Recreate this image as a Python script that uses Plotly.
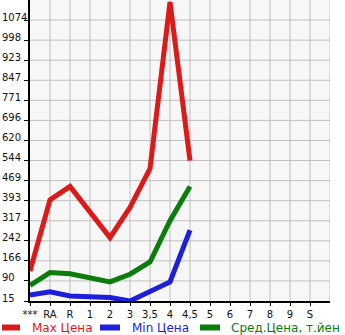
import plotly.graph_objects as go

categories = ["***", "RA", "R", "1", "2", "3", "3,5", "4", "4,5", "5", "6", "7", "8", "9", "S"]
max_price = [128, 396, 447, 350, 254, 368, 514, 1142, 544]
min_price = [37, 50, 34, 30, 28, 15, 50, 87, 282]
avg_price = [74, 122, 118, 103, 87, 116, 162, 318, 447]
y_tick_labels = ["15", "90", "166", "242", "317", "393", "469", "544", "620", "696", "771", "847", "923", "998", "1074"]
y_tick_values = [15 + i * (1074 - 15) / 14 for i in range(15)]

RED = "#dc1a1a"
BLUE = "#1e1edc"
GREEN = "#0a7d0a"

W, H = 345, 335
ML, MR, MT, MB = 30, 15, 0, 34
PW, PH = W - ML - MR, H - MT - MB

fig = go.Figure()
xs = list(range(len(categories)))
for vals, col, name in [(max_price, RED, "Max Цена"), (min_price, BLUE, "Min Цена"), (avg_price, GREEN, "Сред.Цена, т.йен")]:
    fig.add_trace(go.Scatter(x=xs[:len(vals)], y=vals, mode="lines", name=name,
                             line=dict(color=col, width=5), showlegend=False, hoverinfo="skip"))

step = (1074 - 15) / 14
fig.update_layout(
    width=W, height=H,
    margin=dict(l=ML, r=MR, t=MT, b=MB),
    paper_bgcolor="white", plot_bgcolor="#f7f7f7",
    font=dict(family="DejaVu Sans", size=10, color="#111"),
    xaxis=dict(range=[0, 15], tickmode="array", tickvals=xs, ticktext=categories,
               showgrid=False, zeroline=False, showline=True, linecolor="black", linewidth=2,
               ticks="outside", ticklen=3, tickcolor="black", tickfont=dict(size=10, color="#111"),
               fixedrange=True),
    yaxis=dict(range=[15, 15 + 15 * step], tickmode="array", tickvals=y_tick_values,
               ticktext=[""] * len(y_tick_values),
               showgrid=False, zeroline=False, showline=True, linecolor="black", linewidth=2,
               ticks="outside", ticklen=4, tickcolor="black", fixedrange=True),
    showlegend=False,
)

shapes = []
# grid lines
for v in y_tick_values[1:]:
    shapes.append(dict(type="line", xref="paper", yref="y", x0=0, x1=1, y0=v, y1=v,
                       line=dict(color="#c0c0c0", width=1), layer="below"))
for i in range(1, 16):
    shapes.append(dict(type="line", xref="x", yref="paper", x0=i, x1=i, y0=0, y1=1,
                       line=dict(color="#c0c0c0", width=1), layer="below"))

annotations = []
for v, t in zip(y_tick_values, y_tick_labels):
    annotations.append(dict(xref="paper", yref="y", x=-ML / PW, y=v, text=t, showarrow=False,
                            xanchor="left", yanchor="middle", yshift=3,
                            font=dict(family="DejaVu Sans", size=10, color="#111")))

def px(p):
    return (p - ML) / PW

def py(p):
    return (MT + PH - p) / PH

legend_items = [(0, 22, 30, RED, "Max Цена"), (98, 122, 130, BLUE, "Min Цена"), (198, 222, 229, GREEN, "Сред.Цена, т.йен")]
for x0, x1, tx, col, name in legend_items:
    shapes.append(dict(type="line", xref="paper", yref="paper", x0=px(x0 + 2), x1=px(x1 - 2),
                       y0=py(327.5), y1=py(327.5), line=dict(color=col, width=6)))
    annotations.append(dict(xref="paper", yref="paper", x=px(tx), y=py(328), text=name,
                            showarrow=False, xanchor="left", yanchor="middle",
                            font=dict(family="DejaVu Sans", size=12, color=col)))

fig.update_layout(shapes=shapes, annotations=annotations)
fig.write_html("out.html")
